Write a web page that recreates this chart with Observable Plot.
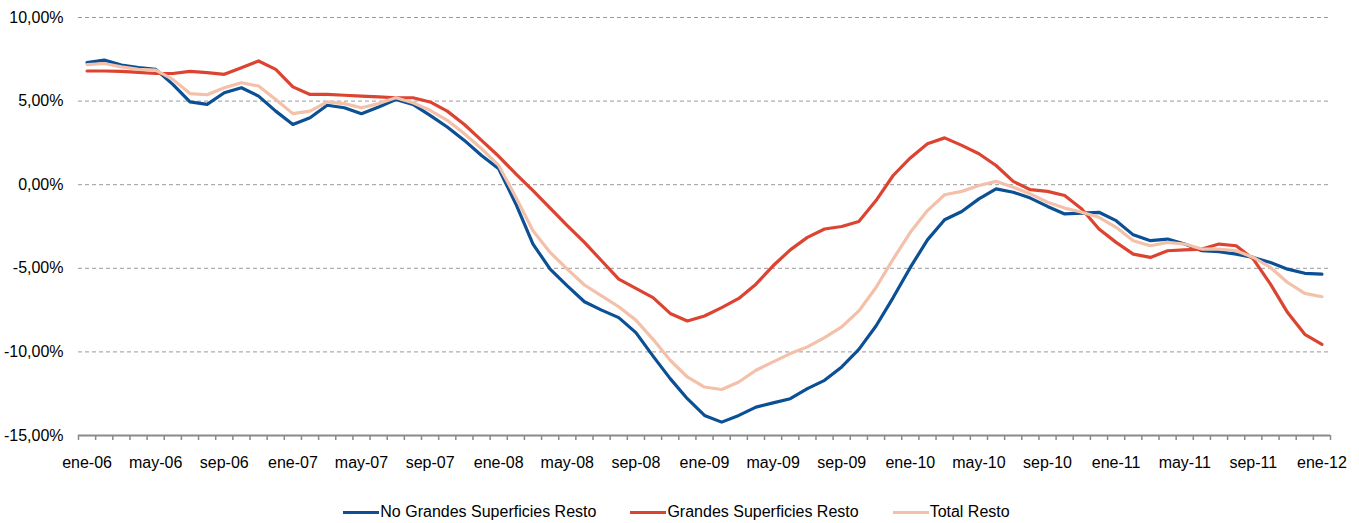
<!DOCTYPE html>
<html>
<head>
<meta charset="utf-8">
<script src="https://cdn.jsdelivr.net/npm/d3@7"></script>
<script src="https://cdn.jsdelivr.net/npm/@observablehq/plot@0.6"></script>
<style>
  html, body { margin: 0; padding: 0; background: #fff; }
  body { width: 1359px; height: 523px; overflow: hidden; font-family: "Liberation Sans", Arial, sans-serif; }
  #legend { display: flex; justify-content: center; align-items: center; height: 22px; margin-top: 11px; font-size: 16px; color: #000; margin-left: -6px; }
  .item { display: flex; align-items: center; margin: 0 17px; }
  .sw { width: 36px; height: 3px; margin-right: 1px; }
</style>
</head>
<body>
<div id="chart"></div>
<div id="legend"></div>
<script>
const months = ["ene","feb","mar","abr","may","jun","jul","ago","sep","oct","nov","dic"];
const periods = [];
for (let y = 6; y <= 12; y++) for (let m = 0; m < 12; m++) {
  if (y === 12 && m > 0) break;
  periods.push(months[m] + "-" + String(y).padStart(2, "0"));
}
const tickLabels = ["ene-06","may-06","sep-06","ene-07","may-07","sep-07","ene-08","may-08","sep-08","ene-09","may-09","sep-09","ene-10","may-10","sep-10","ene-11","may-11","sep-11","ene-12"];
const yTicks = [10, 5, 0, -5, -10, -15];

const seriesNames = ["No Grandes Superficies Resto", "Grandes Superficies Resto", "Total Resto"];
const seriesColors = ["#0b4f95", "#dc4331", "#f3c0aa"];

const noGrandes = [7.3,7.45,7.15,7.0,6.9,6.0,4.95,4.8,5.5,5.8,5.3,4.4,3.6,4.0,4.75,4.6,4.25,4.65,5.1,4.8,4.15,3.45,2.65,1.75,0.95,-1.15,-3.55,-5.05,-6.05,-7.0,-7.5,-7.95,-8.85,-10.25,-11.6,-12.8,-13.8,-14.2,-13.8,-13.3,-13.05,-12.8,-12.2,-11.7,-10.9,-9.85,-8.45,-6.75,-4.95,-3.3,-2.1,-1.6,-0.85,-0.25,-0.45,-0.8,-1.3,-1.75,-1.7,-1.65,-2.15,-3.0,-3.35,-3.25,-3.55,-3.95,-4.0,-4.15,-4.35,-4.65,-5.05,-5.3,-5.35];
const grandes = [6.8,6.8,6.78,6.72,6.65,6.65,6.78,6.7,6.6,7.0,7.4,6.9,5.85,5.4,5.4,5.35,5.3,5.25,5.2,5.2,4.95,4.4,3.6,2.65,1.7,0.65,-0.35,-1.4,-2.45,-3.45,-4.55,-5.65,-6.2,-6.75,-7.7,-8.15,-7.85,-7.35,-6.8,-5.95,-4.85,-3.9,-3.15,-2.65,-2.5,-2.2,-0.95,0.55,1.6,2.45,2.8,2.35,1.85,1.15,0.2,-0.3,-0.4,-0.65,-1.45,-2.65,-3.45,-4.15,-4.35,-3.95,-3.9,-3.85,-3.55,-3.65,-4.45,-5.95,-7.65,-8.95,-9.55];
const total = [7.18,7.25,7.05,6.9,6.85,6.3,5.45,5.38,5.8,6.1,5.9,5.1,4.25,4.4,4.95,4.85,4.6,4.85,5.2,4.9,4.45,3.85,3.05,2.15,1.15,-0.75,-2.75,-4.05,-5.05,-6.0,-6.65,-7.3,-8.1,-9.25,-10.5,-11.5,-12.1,-12.25,-11.8,-11.1,-10.6,-10.1,-9.7,-9.15,-8.5,-7.55,-6.15,-4.45,-2.85,-1.55,-0.6,-0.4,-0.05,0.2,-0.15,-0.55,-1.05,-1.4,-1.65,-1.95,-2.55,-3.35,-3.65,-3.45,-3.55,-3.85,-3.85,-3.95,-4.35,-4.95,-5.85,-6.5,-6.7];

const seriesValues = [noGrandes, grandes, total];
const data = [];
seriesValues.forEach((vals, s) => vals.forEach((v, i) => data.push({i, period: periods[i], value: v, series: seriesNames[s]})));

const idx = p => periods.indexOf(p);
const boundaries = d3.range(periods.length + 1).map(k => k - 0.5);
const fmt = d => d.toFixed(2).replace(".", ",") + "%";

const chart = Plot.plot({
  width: 1359,
  height: 490,
  marginLeft: 78,
  marginRight: 29,
  marginTop: 17,
  marginBottom: 55,
  style: {fontFamily: "'Liberation Sans', Arial, sans-serif", fontSize: "16px", color: "#000", background: "#fff"},
  x: {domain: [-0.5, periods.length - 0.5], axis: null, label: null},
  y: {domain: [-15, 10], axis: null, label: null},
  color: {domain: seriesNames, range: seriesColors},
  marks: [
    Plot.gridY(yTicks.filter(t => t !== -15), {stroke: "#9a9a9a", strokeOpacity: 1, strokeDasharray: "4,3", strokeWidth: 1}),
    Plot.axisY(yTicks, {tickSize: 0, tickPadding: 15, tickFormat: fmt, fontSize: 16, fill: "#000", label: null}),
    Plot.axisX(boundaries, {tickSize: 5, tickFormat: () => "", stroke: "#8a8a8a", strokeWidth: 1.5, label: null}),
    Plot.axisX(tickLabels.map(idx), {tickSize: 0, tickPadding: 21, tickFormat: k => periods[k], fontSize: 16, fill: "#000", label: null}),
    Plot.ruleY([-15], {stroke: "#8a8a8a", strokeWidth: 2}),
    Plot.lineY(data, {x: "i", y: "value", z: "series", stroke: "series", strokeWidth: 3.2, strokeLinejoin: "round"})
  ]
});
document.getElementById("chart").appendChild(chart);

const legend = document.getElementById("legend");
seriesNames.forEach((n, s) => {
  const item = document.createElement("div");
  item.className = "item";
  const sw = document.createElement("span");
  sw.className = "sw";
  sw.style.background = seriesColors[s];
  const t = document.createElement("span");
  t.textContent = n;
  item.appendChild(sw);
  item.appendChild(t);
  legend.appendChild(item);
});
</script>
</body>
</html>
